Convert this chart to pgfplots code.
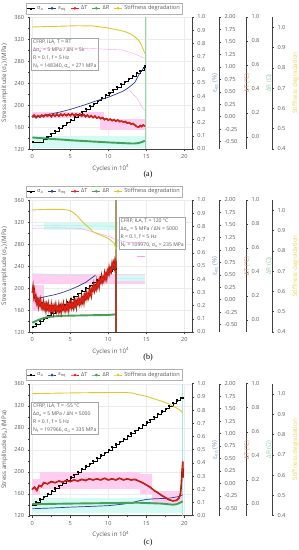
\documentclass[border=0pt]{standalone}
\usepackage{fontspec}
\setmainfont{Open Sans}
\newfontfamily\capfont{Liberation Serif}
\usepackage{pgfplots}
\usepackage{pgfplotstable}
\pgfplotsset{compat=1.18}
\definecolor{axgray}{HTML}{404040}
\definecolor{txtgray}{HTML}{5A5A5A}
\definecolor{epsblue}{HTML}{2B3F8F}
\definecolor{dtred}{HTML}{F01E14}
\definecolor{dtbrown}{HTML}{8E1E0C}
\definecolor{drgreen}{HTML}{46A058}
\definecolor{stiffyel}{HTML}{E2C62E}
\definecolor{bandpink}{HTML}{FFCDEF}
\definecolor{bandcyan}{HTML}{D4FAF4}
\definecolor{faintpink}{HTML}{FF9EE2}
\definecolor{faintcyan}{HTML}{A8F2EE}
\definecolor{lblblue}{HTML}{8494C8}
\definecolor{lblred}{HTML}{E0957C}
\definecolor{lblgreen}{HTML}{8CD0AA}
\definecolor{lblyel}{HTML}{E8D45A}
\definecolor{vgreen}{HTML}{8ED8A6}
\definecolor{vkhaki}{HTML}{A89868}
\definecolor{vcyan}{HTML}{A6E8DC}
\newcommand{\tickfont}{\fontsize{5.6}{6.5}\selectfont}
\newcommand{\labfont}{\fontsize{6.2}{7}\selectfont}
\newcommand{\boxfont}{\fontsize{5.1}{8}\selectfont}
\tikzset{boxstyle/.style={draw=gray!70, fill=white, font=\boxfont, text=txtgray, align=left, anchor=north west, inner sep=1.5pt}}
\pgfplotsset{
  base/.style={scale only axis, height=132pt, xmin=-0.35,
    tick align=outside, major tick length=2pt, minor tick length=1.2pt,
    every tick/.style={axgray, line width=0.4pt},
    axis line style={axgray, line width=0.5pt},
    tick label style={font=\tickfont, text=txtgray},
    label style={font=\labfont},
    /pgf/number format/assume math mode=true},
  mainax/.style={base, width=162.3pt, xmax=21.0, ymin=120, ymax=360,
    axis x line*=bottom, axis y line*=left,
    xtick={0,5,10,15,20}, minor x tick num=1,
    ytick={120,160,200,240,280,320,360}, minor y tick num=1,
    xmajorgrids, ymajorgrids, major grid style={gray!15, line width=0.3pt},
    xlabel={Cycles in 10\textsuperscript{4}},
    ylabel={Stress amplitude (σ\textsubscript{a}) (MPa)},
    ylabel style={text=txtgray}, xlabel style={text=txtgray, yshift=1pt},
    legend columns=5, legend cell align=left,
    legend style={at={(0.46,1)}, anchor=south, yshift=3pt, draw=gray!60,
      font=\tickfont, text=txtgray, inner sep=0.6pt,
      /tikz/every even column/.append style={column sep=2.5pt}},
    legend image code/.code={\draw[mark repeat=2, mark phase=2, ##1] plot coordinates {(0pt,0pt) (4pt,0pt) (8pt,0pt)};}},
  extra/.style={base, hide x axis, axis y line*=right},
  epsax/.style={extra, width=162.3pt, xmax=21.0, ymin=0, ymax=1,
    ytick={0,0.1,0.2,0.3,0.4,0.5,0.6,0.7,0.8,0.9,1.0}, minor y tick num=1,
    yticklabel style={/pgf/number format/.cd, fixed, fixed zerofill, precision=1},
    ylabel={ε\textsubscript{eq} (\%)}, ylabel style={text=lblblue}},
  dtax/.style={extra, width=189.4pt, xmax=24.565, ymin=-0.65, ymax=2.0,
    ytick={-0.5,-0.25,0,0.25,0.5,0.75,1.0,1.25,1.5,1.75,2.0}, minor y tick num=1,
    yticklabel style={/pgf/number format/.cd, fixed, fixed zerofill, precision=2},
    ylabel={ΔT (°C)}, ylabel style={text=lblred}},
  drax/.style={extra, width=216.4pt, xmax=28.116, ymin=-0.1, ymax=1.0,
    ytick={0,0.2,0.4,0.6,0.8,1.0}, minor y tick num=1,
    yticklabel style={/pgf/number format/.cd, fixed, fixed zerofill, precision=1},
    ylabel={ΔR (Ω)}, ylabel style={text=lblgreen}},
  stax/.style={extra, width=242.4pt, xmax=31.537, ymin=0.4, ymax=1.05,
    ytick={0.4,0.5,0.6,0.7,0.8,0.9,1.0}, minor y tick num=1,
    yticklabel style={/pgf/number format/.cd, fixed, fixed zerofill, precision=1},
    ylabel={Stiffness degradation}, ylabel style={text=lblyel}},
  sigstyle/.style={black, line width=0.4pt, const plot, mark=square*, mark size=0.55pt},
  epsstyle/.style={epsblue, line width=0.7pt},
  dtstyle/.style={dtbrown, line width=1.6pt},
  dtover/.style={dtred, line width=0.45pt, mark=*, mark size=0.45pt},
  drstyle/.style={drgreen, line width=1.9pt},
  ststyle/.style={stiffyel, line width=0.9pt},
}
\newcommand{\legendrest}{%
  \addlegendimage{epsblue, line width=0.6pt, mark=diamond*, mark size=1.1pt}
  \addlegendentry{ε\textsubscript{eq}}
  \addlegendimage{dtred, line width=0.6pt, mark=*, mark size=1pt}
  \addlegendentry{ΔT}
  \addlegendimage{drgreen, line width=0.6pt, mark=*, mark size=1pt}
  \addlegendentry{ΔR}
  \addlegendimage{stiffyel, line width=0.6pt, mark=*, mark size=1pt}
  \addlegendentry{Stiffness degradation}}
\pgfplotstableread{
x y
0 0.00
0.25 0.03
0.5 -0.02
0.75 0.02
1 -0.01
1.25 0.03
1.5 0.00
1.75 0.04
2 0.01
2.25 0.04
2.5 0.00
2.75 0.04
3 0.01
3.25 0.05
3.5 0.01
3.75 0.05
4 0.02
4.25 0.05
4.5 0.02
4.75 0.05
5 0.02
5.25 0.06
5.5 0.02
5.75 0.05
6 0.02
6.25 0.05
6.5 0.01
6.75 0.04
7 0.00
7.25 0.03
7.5 -0.01
7.75 0.02
8 -0.02
8.25 0.01
8.5 -0.03
8.75 -0.01
9 -0.04
9.25 -0.02
9.5 -0.06
9.75 -0.04
10 -0.07
10.25 -0.05
10.5 -0.08
10.75 -0.06
11 -0.09
11.25 -0.07
11.5 -0.10
11.75 -0.09
12 -0.11
12.25 -0.10
12.5 -0.13
12.75 -0.12
13 -0.15
13.25 -0.14
13.5 -0.17
13.75 -0.20
14 -0.21
14.2 -0.18
14.4 -0.20
14.6 -0.17
14.8 -0.19
}\dta
\pgfplotstableread{
x y
0 0.145
0.1 0.266
0.2 0.068
0.3 0.178
0.4 -0.010
0.5 0.060
0.6 -0.073
0.7 -0.006
0.8 -0.140
0.9 -0.013
1.0 -0.096
1.1 -0.004
1.2 -0.151
1.3 -0.089
1.4 -0.177
1.5 -0.045
1.6 -0.172
1.7 -0.100
1.8 -0.228
1.9 -0.095
2.0 -0.173
2.1 -0.075
2.2 -0.217
2.3 -0.150
2.4 -0.232
2.5 -0.094
2.6 -0.216
2.7 -0.138
2.8 -0.261
2.9 -0.123
3.0 -0.195
3.1 -0.094
3.2 -0.233
3.3 -0.162
3.4 -0.241
3.5 -0.100
3.6 -0.218
3.7 -0.137
3.8 -0.256
3.9 -0.115
4.0 -0.184
4.1 -0.080
4.2 -0.215
4.3 -0.141
4.4 -0.216
4.5 -0.072
4.6 -0.188
4.7 -0.103
4.8 -0.219
4.9 -0.074
5.0 -0.140
5.1 -0.033
5.2 -0.167
5.3 -0.090
5.4 -0.164
5.5 -0.017
5.6 -0.130
5.7 -0.044
5.8 -0.157
5.9 -0.011
6.0 -0.074
6.1 0.036
6.2 -0.094
6.3 -0.014
6.4 -0.084
6.5 0.066
6.6 -0.044
6.7 0.046
6.8 -0.064
6.9 0.086
7.0 0.026
7.1 0.143
7.2 0.019
7.3 0.106
7.4 0.042
7.5 0.199
7.6 0.095
7.7 0.192
7.8 0.088
7.9 0.245
8.0 0.191
8.1 0.308
8.2 0.184
8.3 0.271
8.4 0.207
8.5 0.364
8.6 0.261
8.7 0.357
8.8 0.254
8.9 0.410
9.0 0.357
9.1 0.474
9.2 0.350
9.3 0.437
9.4 0.373
9.5 0.530
9.6 0.427
9.7 0.523
9.8 0.420
9.9 0.576
10.0 0.523
10.1 0.646
10.2 0.530
10.3 0.623
10.4 0.567
10.5 0.730
10.6 0.633
10.7 0.737
10.8 0.640
10.9 0.810
11.0 0.765
11.02 -0.64
}\dtb
\pgfplotstableread{
x y
0 -0.120
0.3 -0.076
0.6 -0.142
0.9 -0.043
1.2 -0.065
1.5 0.013
2 -0.010
2.5 0.035
3 0.013
3.5 0.046
4 0.024
4.5 0.057
5 0.035
5.5 0.068
6 0.046
6.5 0.079
7 0.057
7.5 0.090
8 0.068
8.5 0.090
9 0.068
9.5 0.101
10 0.068
10.5 0.090
11 0.068
11.5 0.101
12 0.068
12.5 0.090
13 0.068
13.5 0.079
14 0.046
14.5 0.013
15 -0.032
15.5 -0.076
16 -0.142
16.5 -0.186
17 -0.241
17.5 -0.286
18 -0.330
18.5 -0.352
19 -0.341
19.3 -0.297
19.5 -0.208
19.6 -0.043
19.7 0.233
19.8 0.432
19.85 0.123
}\dtc
\begin{document}
\begin{tikzpicture}
\useasboundingbox (0,0) rectangle (298pt,550pt);
% ===================== (a) =====================
\begin{axis}[mainax, at={(29.6pt,401pt)}]
\addplot[fill=bandpink, draw=none, forget plot] coordinates {(0,176) (9.5,176) (9.5,188) (0,188)} -- cycle;
\addplot[fill=bandpink, draw=none, forget plot] coordinates {(8.9,155) (14.8,155) (14.8,174) (8.9,174)} -- cycle;
\addplot[fill=bandcyan, draw=none, forget plot] coordinates {(0,121) (14.8,121) (14.8,143) (0,143)} -- cycle;
\node[boxstyle] at (axis cs:-0.1,322) {CFRP, ILA, T = RT\\Δσ\textsubscript{a} = 5 MPa / ΔN = 5k\\R = 0.1, f = 5 Hz\\N\textsubscript{f} = 148340, σ\textsubscript{u} = 271 MPa};
\addplot[faintpink, line width=0.4pt, forget plot] coordinates {(0.3,303) (5,304) (9,302) (11.8,300) (13.3,294) (14.8,285)};
\addplot[faintpink, line width=0.4pt, forget plot] coordinates {(12.8,227) (13.8,212) (14.4,197) (14.8,190)};
\addplot[vgreen, line width=0.6pt, forget plot] coordinates {(14.83,120) (14.83,360)};
\addplot[sigstyle] coordinates {(0,133) (1.45,138) (1.96,143) (2.47,148) (2.98,153) (3.49,158) (4.00,163) (4.51,168) (5.02,173) (5.53,178) (6.04,183) (6.55,188) (7.06,193) (7.57,198) (8.08,203) (8.59,208) (9.10,213) (9.61,218) (10.12,223) (10.63,228) (11.14,233) (11.65,238) (12.16,243) (12.67,248) (13.18,253) (13.69,258) (14.20,263) (14.71,268) (14.83,271)};
\addlegendentry{σ\textsubscript{a}}
\legendrest
\end{axis}
\begin{axis}[epsax, at={(29.6pt,401pt)}]
\addplot[epsstyle] coordinates {(0,0.24) (1,0.25) (2,0.26) (3,0.272) (4,0.285) (5,0.30) (6,0.318) (7,0.336) (8,0.356) (9,0.375) (10,0.392) (11,0.415) (12,0.44) (12.5,0.458) (13,0.48) (13.5,0.505) (14,0.56) (14.4,0.595) (14.8,0.623)};
\end{axis}
\begin{axis}[drax, at={(29.6pt,401pt)}]
\addplot[drstyle] coordinates {(0,-0.004) (1,-0.009) (2,-0.013) (3,-0.018) (4,-0.022) (5,-0.027) (6,-0.031) (7,-0.034) (8,-0.038) (9,-0.041) (10,-0.045) (11,-0.048) (12,-0.051) (13,-0.054) (13.5,-0.054) (14,-0.050) (14.5,-0.040) (14.8,-0.031)};
\end{axis}
\begin{axis}[dtax, at={(29.6pt,401pt)}]
\addplot[dtstyle] table {\dta};
\addplot[dtover] table {\dta};
\end{axis}
\begin{axis}[stax, at={(29.6pt,401pt)}]
\addplot[ststyle] coordinates {(0,1.001) (2,1.003) (4,1.005) (6,1.007) (8,1.006) (9,1.001) (10,0.996) (11,0.988) (12,0.98) (12.5,0.974) (13,0.965) (13.5,0.952) (14,0.935) (14.2,0.923) (14.5,0.90) (14.8,0.871)};
\end{axis}
\node[font=\capfont\fontsize{8}{9}\selectfont] at (148pt,375pt) {(a)};
% ===================== (b) =====================
\begin{axis}[mainax, at={(29.6pt,218pt)}]
\addplot[fill=bandpink, draw=none, forget plot] coordinates {(0,158) (1.6,158) (1.6,205) (0,205)} -- cycle;
\addplot[fill=bandpink, draw=none, forget plot] coordinates {(0,207) (14.8,207) (14.8,226) (0,226)} -- cycle;
\addplot[fill=bandcyan, draw=none, forget plot] coordinates {(1.5,306) (11.3,306) (11.3,318) (1.5,318)} -- cycle;
\addplot[fill=bandcyan, draw=none, forget plot] coordinates {(11,275) (14.8,275) (14.8,290) (11,290)} -- cycle;
\addplot[fill=bandcyan, draw=none, forget plot] coordinates {(11,213) (14.8,213) (14.8,223) (11,223)} -- cycle;
\addplot[fill=bandcyan, draw=none, forget plot] coordinates {(0,128) (0.6,128) (0.6,140) (0,140)} -- cycle;
\node[boxstyle] at (axis cs:11.4,328.6) {CFRP, ILA, T = 120 °C\\Δσ\textsubscript{a} = 5 MPa / ΔN = 5000\\R = 0.1, f = 5 Hz\\N\textsubscript{f} = 109970, σ\textsubscript{u} = 235 MPa};
\addplot[faintpink, line width=0.5pt, forget plot] coordinates {(0,308.5) (3,309.5) (6.3,308.5) (8,302) (10.2,293.3) (11,288) (12.4,283) (14.8,283)};
\addplot[faintpink, line width=0.6pt, forget plot] coordinates {(13.8,257) (14.8,257)};
\addplot[faintcyan, line width=0.6pt, forget plot] coordinates {(0,313) (5,314) (11,312)};
\addplot[faintcyan, line width=0.6pt, forget plot] coordinates {(0,226) (4,224) (8,221) (11,218) (14.8,218)};
\addplot[vkhaki, line width=1.5pt, forget plot] coordinates {(11.0,120) (11.0,360)};
\addplot[sigstyle] coordinates {(0,130) (0.5,135) (1,140) (1.5,145) (2,150) (2.5,155) (3,160) (3.5,165) (4,170) (4.5,175) (5,180) (5.5,185) (6,190) (6.5,195) (7,200) (7.5,205) (8,210) (8.5,215) (9,220) (9.5,225) (10,230) (10.5,235) (11.0,235)};
\addlegendentry{σ\textsubscript{a}}
\legendrest
\end{axis}
\begin{axis}[epsax, at={(29.6pt,218pt)}]
\addplot[epsstyle] coordinates {(0.5,0.254) (1,0.258) (2,0.271) (3,0.283) (4,0.30) (5,0.321) (6,0.346) (7,0.375) (8,0.417) (8.3,0.43)};
\end{axis}
\begin{axis}[drax, at={(29.6pt,218pt)}]
\addplot[drstyle] coordinates {(0,-0.022) (0.5,-0.008) (1,0.005) (1.5,0.015) (2,0.024) (3,0.031) (4,0.035) (6,0.0375) (8,0.040) (10,0.042) (11,0.047)};
\end{axis}
\begin{axis}[dtax, at={(29.6pt,218pt)}]
\addplot[dtstyle, line width=1.3pt] table {\dtb};
\addplot[dtover, line width=0.5pt, mark size=0.35pt] table {\dtb};
\end{axis}
\begin{axis}[stax, at={(29.6pt,218pt)}]
\addplot[ststyle] coordinates {(0,1.001) (2,1.004) (4,1.004) (5,0.998) (5.5,0.985) (6,0.968) (6.5,0.947) (7,0.928) (7.5,0.912) (8,0.893) (9,0.877) (10,0.861) (10.8,0.836) (11.0,0.806)};
\end{axis}
\node[font=\capfont\fontsize{8}{9}\selectfont] at (148pt,192pt) {(b)};
% ===================== (c) =====================
\begin{axis}[mainax, at={(29.6pt,34.3pt)}]
\addplot[fill=bandcyan, draw=none, forget plot] coordinates {(0,125) (19.8,125) (19.8,152) (0,152)} -- cycle;
\addplot[fill=bandpink, draw=none, forget plot] coordinates {(0,158) (1,158) (1,186) (0,186)} -- cycle;
\addplot[fill=bandpink, draw=none, forget plot] coordinates {(1,168) (14.2,168) (14.2,200) (1,200)} -- cycle;
\addplot[fill=bandpink, draw=none, forget plot] coordinates {(14.2,160) (15.8,160) (15.8,195) (14.2,195)} -- cycle;
\addplot[fill=bandpink, draw=none, forget plot] coordinates {(15.8,143) (19.8,143) (19.8,165) (15.8,165)} -- cycle;
\node[boxstyle] at (axis cs:-0.1,326) {CFRP, ILA, T = -55 °C\\Δσ\textsubscript{a} = 5 MPa / ΔN = 5000\\R = 0.1, f = 5 Hz\\N\textsubscript{f} = 197966, σ\textsubscript{u} = 335 MPa};
\addplot[vcyan, line width=0.6pt, forget plot] coordinates {(19.8,120) (19.8,360)};
\addplot[sigstyle] coordinates {(0,140) (0.5,145) (1,150) (1.5,155) (2,160) (2.5,165) (3,170) (3.5,175) (4,180) (4.5,185) (5,190) (5.5,195) (6,200) (6.5,205) (7,210) (7.5,215) (8,220) (8.5,225) (9,230) (9.5,235) (10,240) (10.5,245) (11,250) (11.5,255) (12,260) (12.5,265) (13,270) (13.5,275) (14,280) (14.5,285) (15,290) (15.5,295) (16,300) (16.5,305) (17,310) (17.5,315) (18,320) (18.5,325) (19,330) (19.5,335) (19.8,335)};
\addlegendentry{σ\textsubscript{a}}
\legendrest
\end{axis}
\begin{axis}[epsax, at={(29.6pt,34.3pt)}]
\addplot[epsstyle] coordinates {(0,0.053) (2.5,0.058) (5,0.065) (7.5,0.07) (10,0.076) (12,0.088) (13,0.098) (14,0.112) (15,0.123) (16,0.128) (17,0.13) (18,0.133) (19,0.142) (19.5,0.15) (19.8,0.158)};
\end{axis}
\begin{axis}[drax, at={(29.6pt,34.3pt)}]
\addplot[drstyle] coordinates {(0,-0.004) (5,0.001) (10,0.005) (14,0.008) (17,0.001) (18.5,-0.008) (19,-0.004) (19.5,0.010) (19.8,0.019)};
\end{axis}
\begin{axis}[dtax, at={(29.6pt,34.3pt)}]
\addplot[dtstyle] table {\dtc};
\addplot[dtover] table {\dtc};
\end{axis}
\begin{axis}[stax, at={(29.6pt,34.3pt)}]
\addplot[ststyle] coordinates {(0,1.001) (4,1.004) (8,1.006) (12,1.007) (13,1.005) (14,0.996) (15,0.988) (16,0.976) (17,0.964) (18,0.95) (19,0.93) (19.5,0.918) (19.8,0.906)};
\end{axis}
\node[font=\capfont\fontsize{8}{9}\selectfont] at (148pt,7.5pt) {(c)};
\end{tikzpicture}
\end{document}
